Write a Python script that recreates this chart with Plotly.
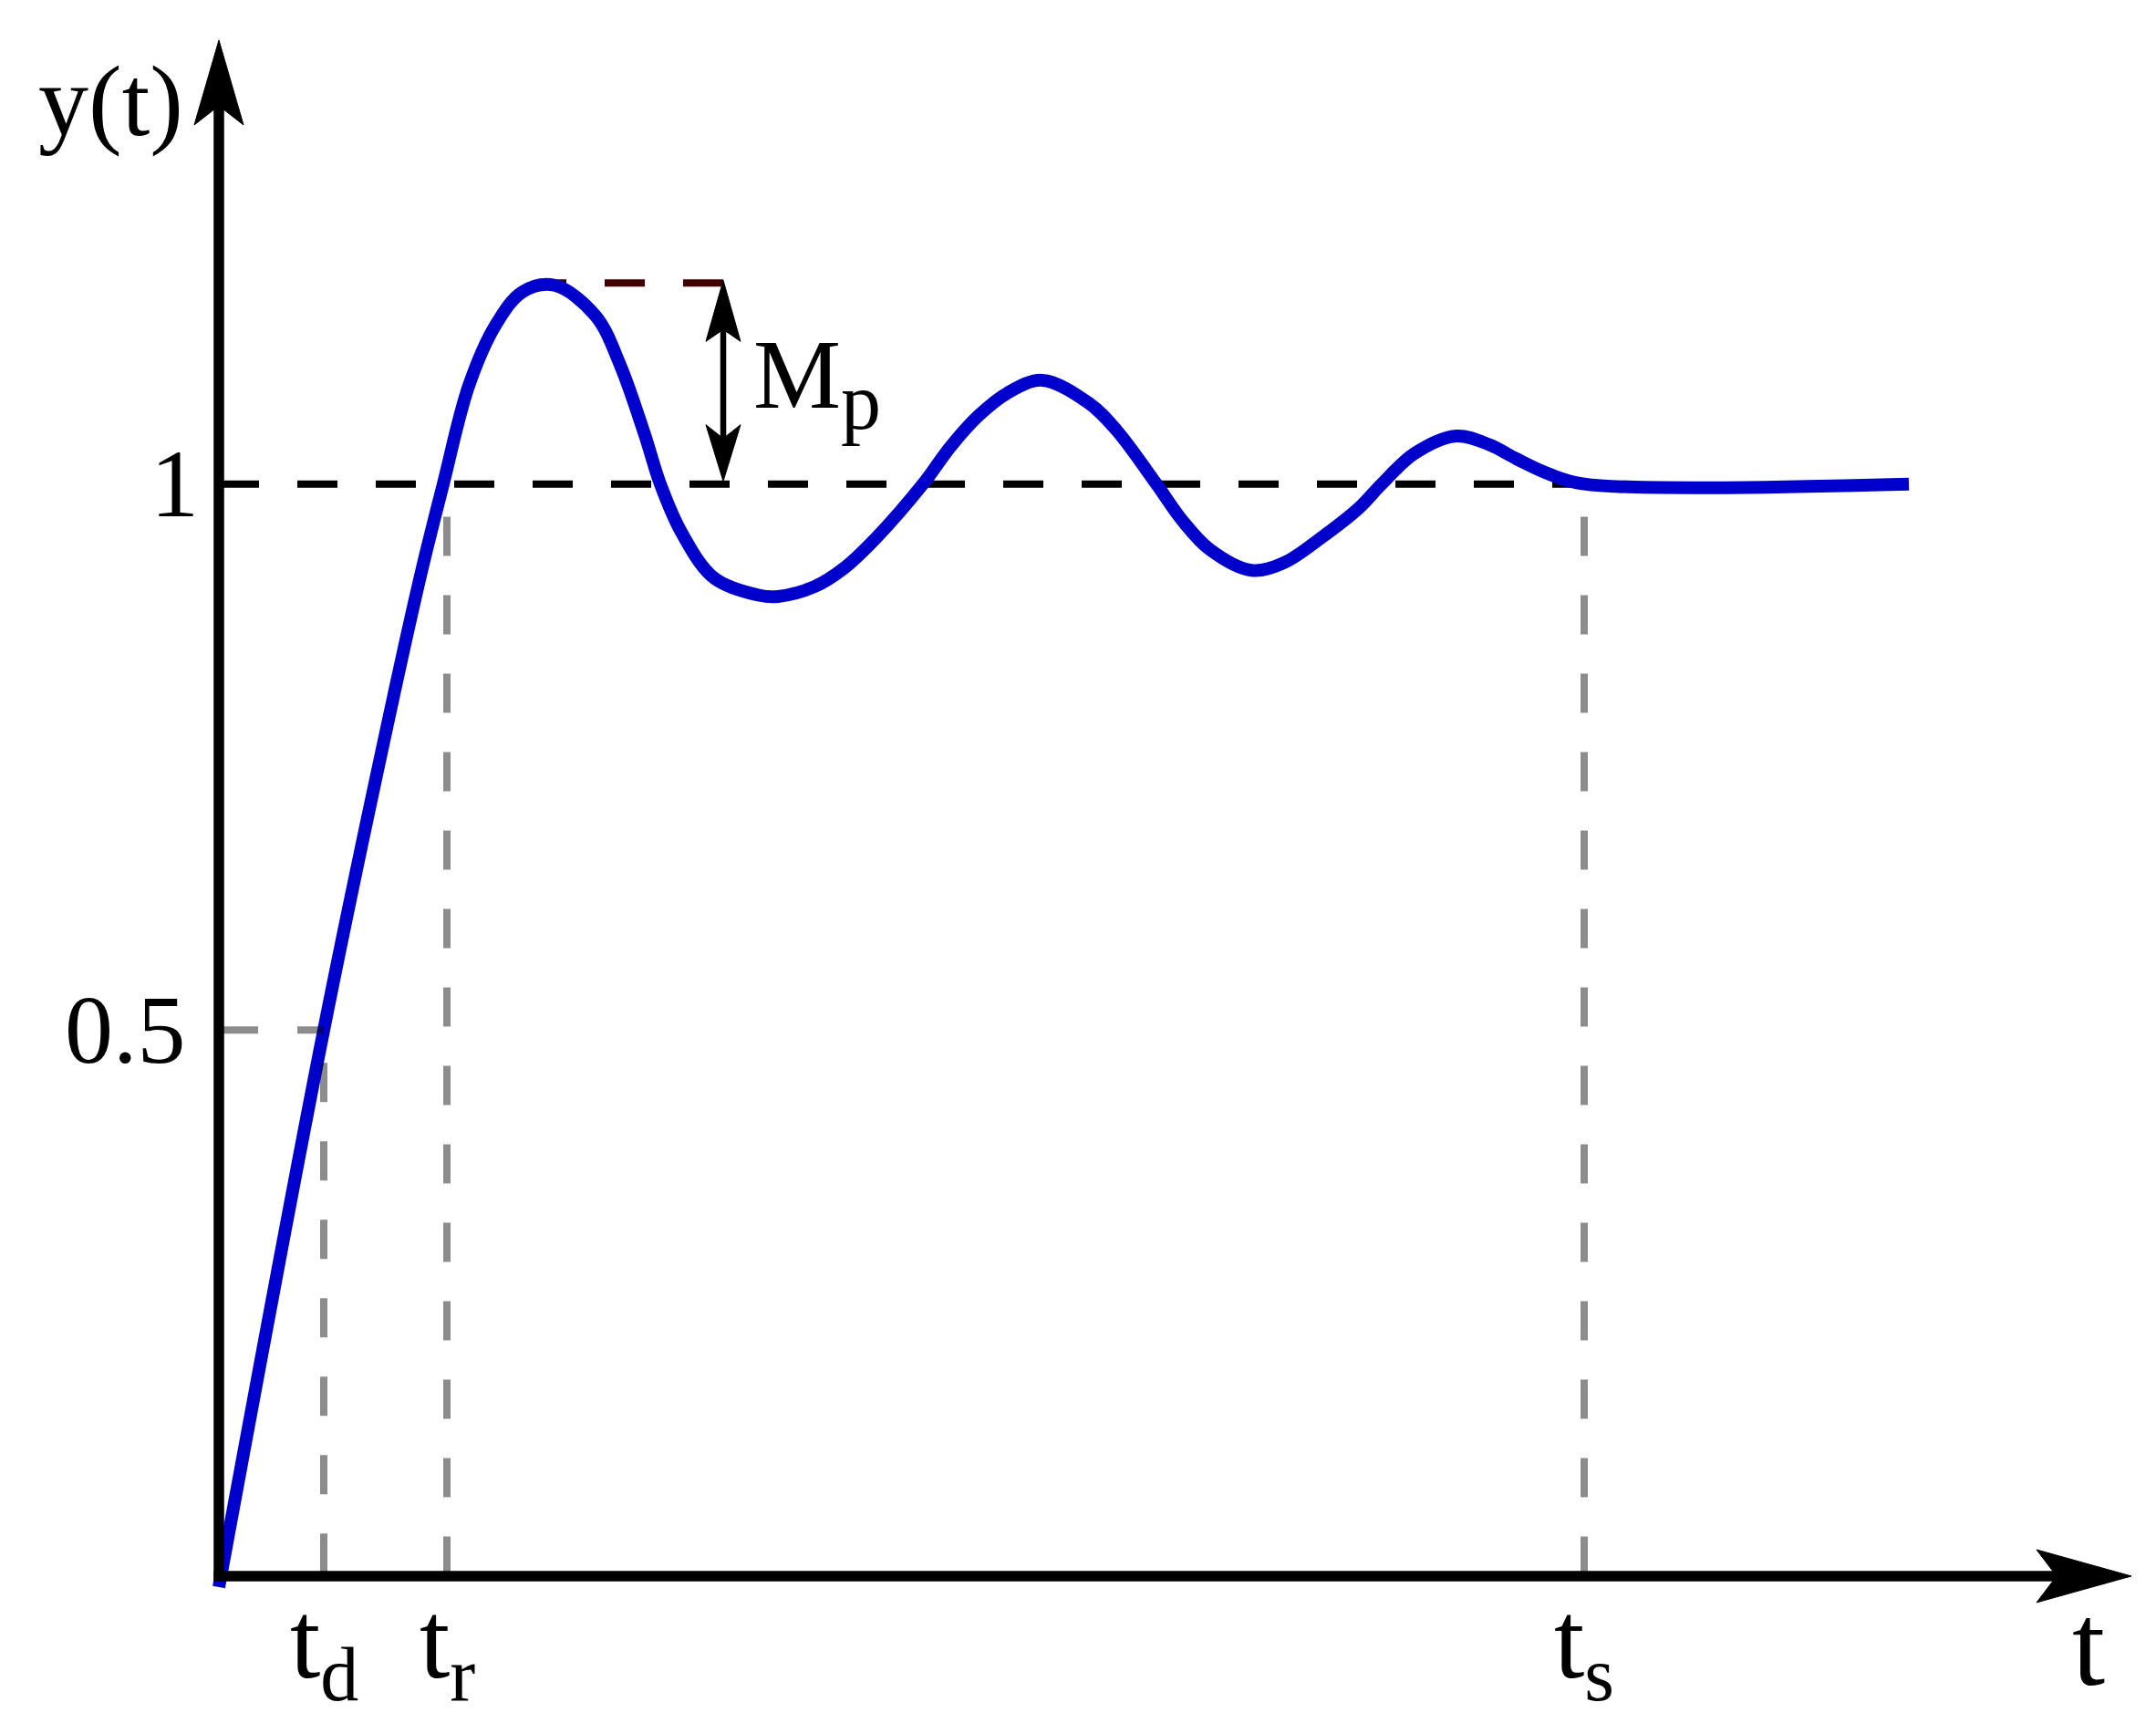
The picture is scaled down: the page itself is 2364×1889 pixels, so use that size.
import plotly.graph_objects as go

# ---------------- data ----------------
# step response y(t); t in arbitrary time units
t_vals = [0.00, 1.15, 1.95, 2.23, 2.46, 2.74, 3.03, 3.33, 3.68,
          4.13, 4.40, 4.67, 4.84, 5.07, 5.43, 5.93, 6.13, 6.53, 6.855,
          7.21, 7.72, 8.03, 8.335, 8.64, 9.03, 9.54, 9.845, 10.28, 10.56,
          10.865, 11.32, 11.68, 12.09, 12.50, 12.75, 13.11, 13.57, 13.93,
          14.23, 14.59, 14.97, 18.53]
y_vals = [-0.010, 0.500, 0.819, 0.923, 1.000, 1.090, 1.145, 1.176, 1.182,
          1.154, 1.109, 1.045, 1.000, 0.956, 0.914, 0.898, 0.897, 0.906, 0.923,
          0.951, 1.000, 1.035, 1.063, 1.083, 1.095, 1.074, 1.049, 1.000, 0.967,
          0.940, 0.921, 0.928, 0.951, 0.978, 1.000, 1.028, 1.044, 1.036,
          1.023, 1.009, 1.000, 1.000]

# characteristic times
time_names = ["t<sub>d</sub>", "t<sub>r</sub>", "t<sub>s</sub>"]
time_values = [1.15, 2.50, 14.97]          # delay, rise, settling time
td, tr, ts = time_values

# reference levels on the y axis
level_labels = ["0.5", "1"]
level_values = [0.5, 1.0]
final_value = 1.0
half_value = 0.5

# overshoot
peak_t = 3.62
peak_level = 1.184
mp_t = 5.53

# ---------------- style ----------------
BLUE = "#0000cc"
GRAY = "rgba(0,0,0,0.45)"
DARKRED = "#400000"
FONT = "Liberation Serif"
X_RANGE = [-2.40, 21.24]
Y_RANGE = [-0.1345, 1.4432]
PX_X = 100.0      # pixels per t unit
PX_Y = 1197.4     # pixels per y unit

fig = go.Figure()

shapes = []


def line(x0, y0, x1, y1, color, width, dash="solid", layer="above"):
    shapes.append(dict(type="line", xref="x", yref="y", x0=x0, y0=y0, x1=x1, y1=y1,
                       line=dict(color=color, width=width, dash=dash), layer=layer))


def head(tx, ty, direction, length_px, notch_px, half_px, color="black"):
    if direction in ("up", "down"):
        s = -1 if direction == "up" else 1
        L = length_px / PX_Y * s
        N = notch_px / PX_Y * s
        H = half_px / PX_X
        path = (f"M {tx},{ty} L {tx - H},{ty + L} L {tx},{ty + N} "
                f"L {tx + H},{ty + L} Z")
    else:
        L = length_px / PX_X
        N = notch_px / PX_X
        H = half_px / PX_Y
        path = (f"M {tx},{ty} L {tx - L},{ty - H} L {tx - N},{ty} "
                f"L {tx - L},{ty + H} Z")
    shapes.append(dict(type="path", xref="x", yref="y", path=path,
                       fillcolor=color, line=dict(color=color, width=1), layer="above"))


# dashed reference lines (below the curve)
line(0, final_value, ts, final_value, "black", 8, "44px,42px", "below")
line(mp_t, peak_level, peak_t, peak_level, DARKRED, 8, "44px,42px", "below")

# the response curve
fig.add_trace(go.Scatter(x=t_vals, y=y_vals, mode="lines",
                         line=dict(color=BLUE, width=14, shape="spline",
                                   smoothing=1.0, simplify=False),
                         hoverinfo="skip", showlegend=False))

# gray guide lines (on top, semi-transparent)
gap = 0.03
line(0, half_value, td, half_value, GRAY, 8, "43px,43px")
line(td, half_value - gap, td, 0, GRAY, 8, "43px,43px")
line(tr, final_value - gap, tr, 0, GRAY, 8, "43px,43px")
line(ts, final_value - gap, ts, 0, GRAY, 8, "43px,43px")

# axes with arrows
y_tip = Y_RANGE[1] - 44 / PX_Y
x_tip = X_RANGE[1] - 27 / PX_X
line(0, -5.7 / PX_Y, 0, y_tip - 70 / PX_Y, "black", 11.5)
line(-5.7 / PX_X, 0, x_tip - 80 / PX_X, 0, "black", 11.5)
head(0, y_tip, "up", 93, 72, 27)
head(x_tip, 0, "right", 104, 82, 29)

# Mp double arrow
line(mp_t, final_value + 40 / PX_Y, mp_t, peak_level - 40 / PX_Y, "black", 6.5)
head(mp_t, peak_level + 3 / PX_Y, "up", 67, 54, 19)
head(mp_t, final_value + 3 / PX_Y, "down", 62, 47, 19)

annotations = []


def text(x, y, s, size, xanchor="center", yanchor="middle"):
    annotations.append(dict(x=x, y=y, xref="x", yref="y", text=s, showarrow=False,
                            xanchor=xanchor, yanchor=yanchor,
                            font=dict(family=FONT, size=size, color="black")))


text(-1.19, 1.3505, "y(t)", 110)
text(-0.485, level_values[1], level_labels[1], 106)
text(-1.03, level_values[0], level_labels[0], 106)
for name, tv in zip(time_names, time_values):
    text(tv, -0.066, name, 120)
text(20.50, -0.0626, "t", 130)
text(5.84, 1.0925, "M<sub><span style=\"font-size:88px\">p</span></sub>", 108, xanchor="left")

fig.update_layout(
    width=2364, height=1889,
    margin=dict(l=0, r=0, t=0, b=0),
    paper_bgcolor="white", plot_bgcolor="white",
    xaxis=dict(range=X_RANGE, visible=False, fixedrange=True),
    yaxis=dict(range=Y_RANGE, visible=False, fixedrange=True),
    shapes=shapes, annotations=annotations,
    showlegend=False,
)

fig.write_html("out.html", config={"displayModeBar": False},
               post_script="document.body.style.margin='0px';document.body.style.overflow='hidden';")
